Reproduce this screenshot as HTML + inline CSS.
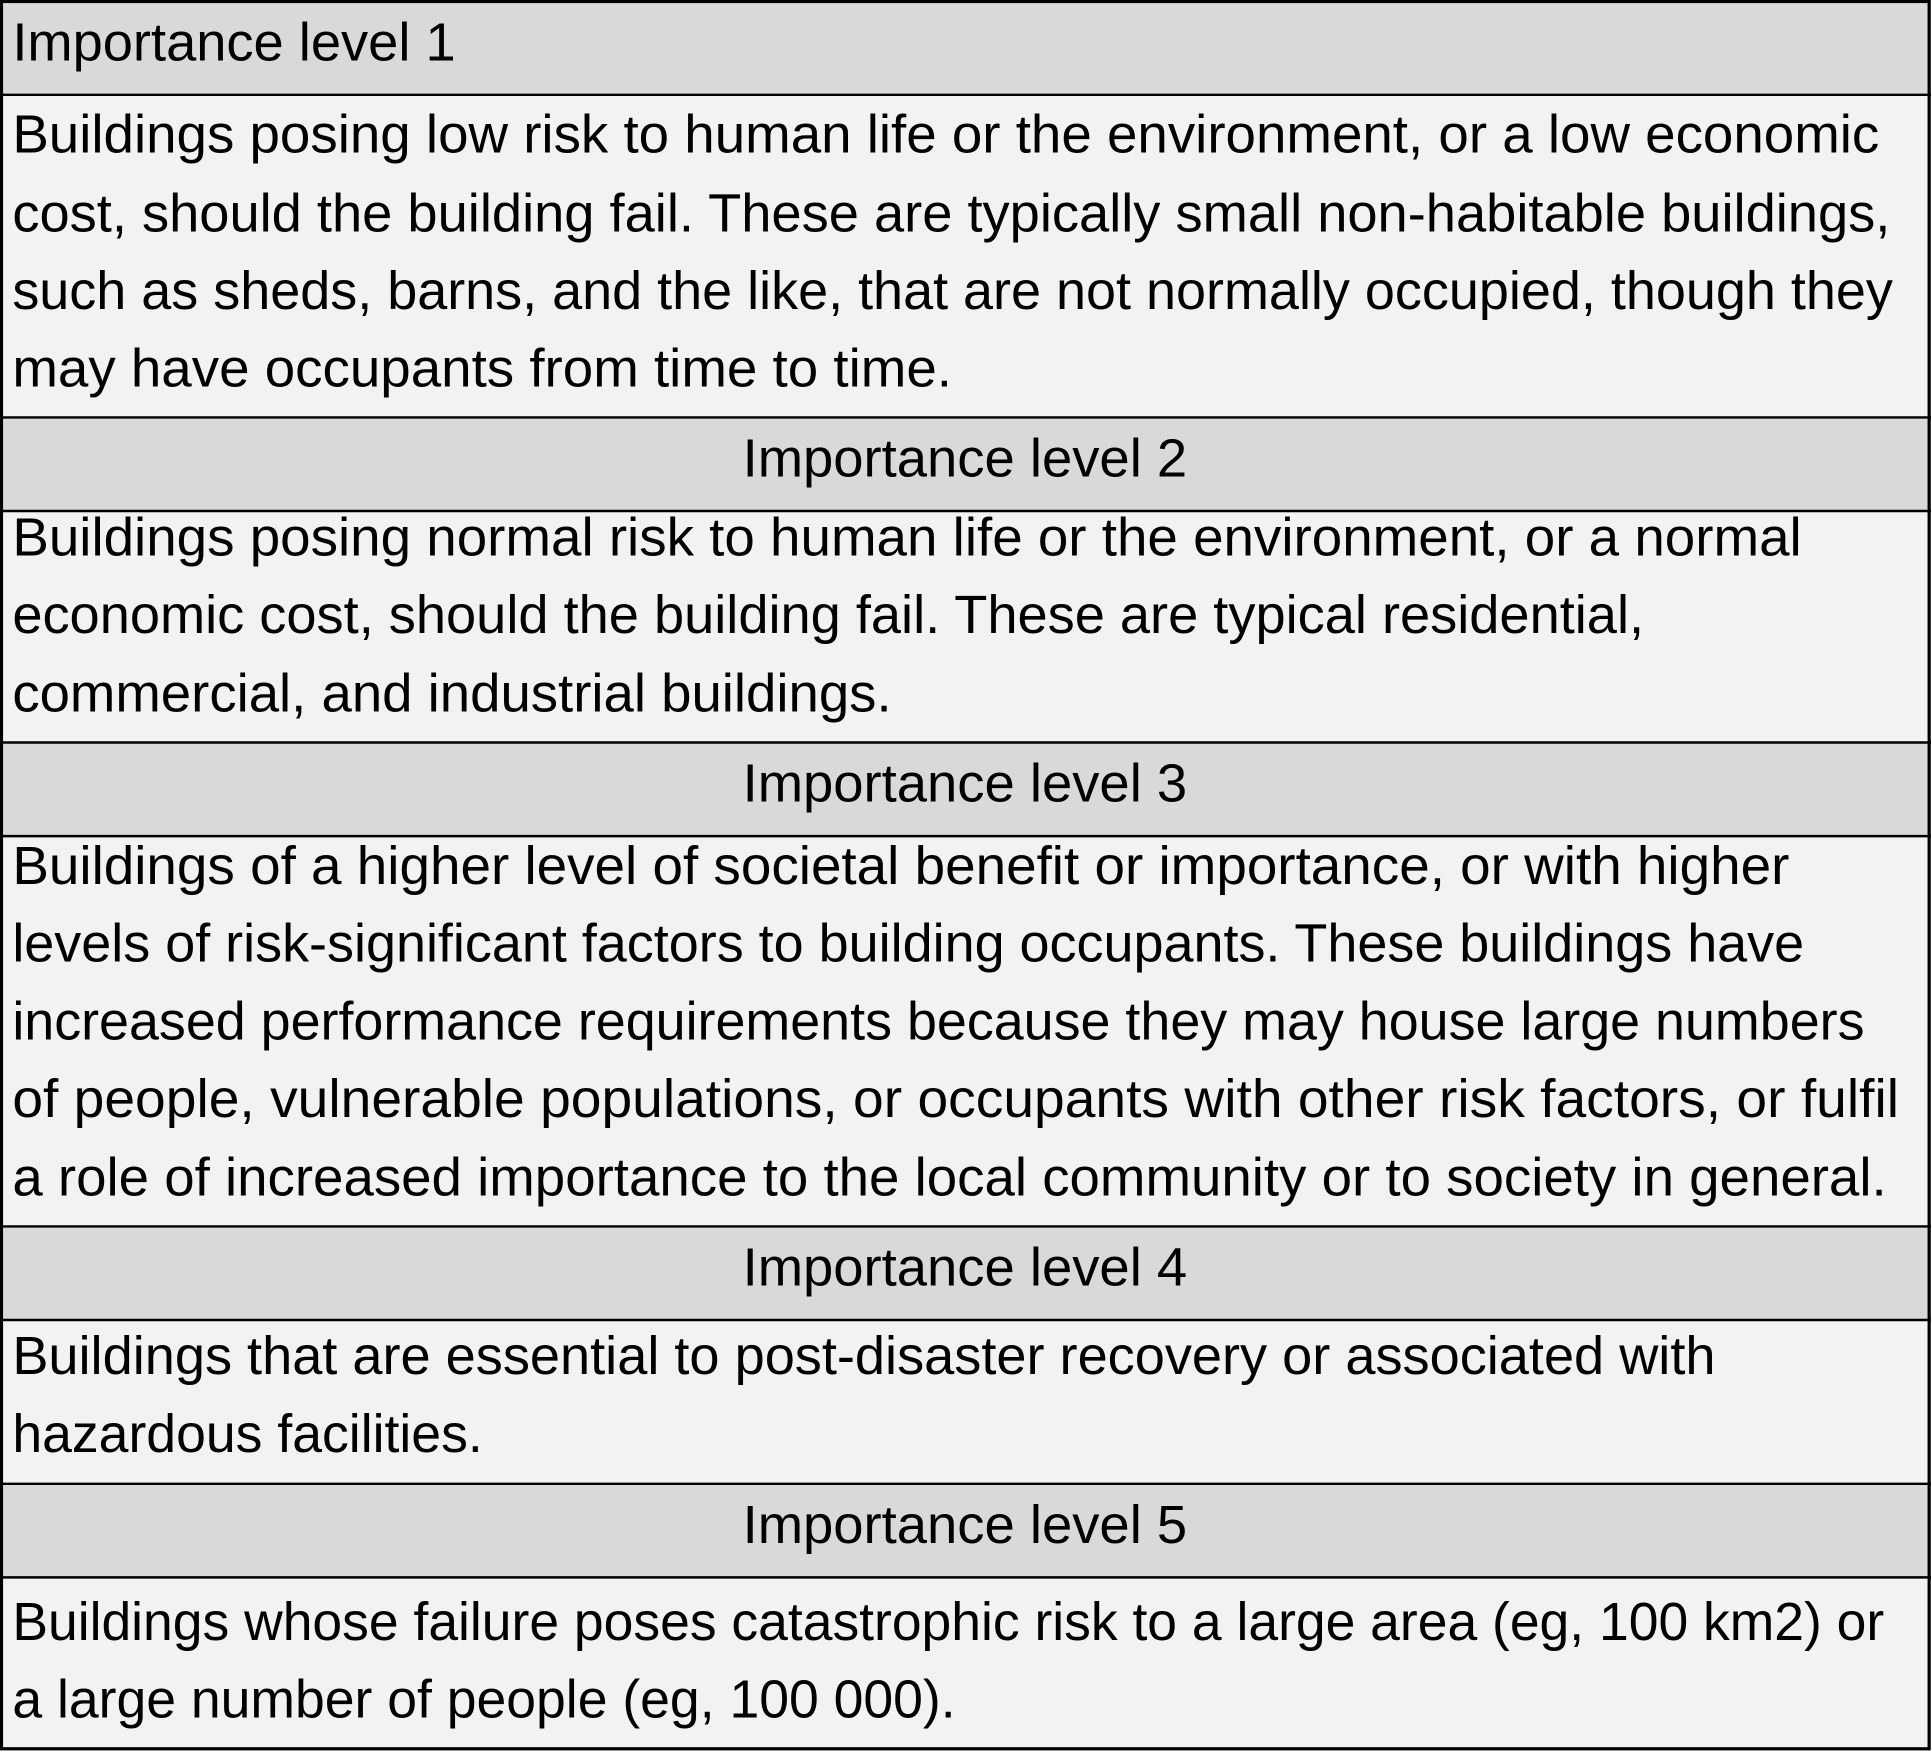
<!DOCTYPE html>
<html><head><meta charset="utf-8"><style>
html,body{margin:0;padding:0;background:#f2f2f2;}
svg{display:block;}
text{font-family:"Liberation Sans",Arial,sans-serif;font-size:44px;fill:#000;}
</style></head><body>
<svg width="1931" height="1751" viewBox="0 0 1568 1422" preserveAspectRatio="none" xmlns="http://www.w3.org/2000/svg">
<g>
<rect x="0" y="0" width="1568" height="77" fill="#d9d9d9"/>
<text x="10" y="49" textLength="360" lengthAdjust="spacingAndGlyphs">Importance level 1</text>
</g>
<g>
<rect x="0" y="77" width="1568" height="262" fill="#f2f2f2"/>
<text x="10" y="124" textLength="1516" lengthAdjust="spacingAndGlyphs">Buildings posing low risk to human life or the environment, or a low economic</text>
<text x="10" y="188" textLength="1525" lengthAdjust="spacingAndGlyphs">cost, should the building fail. These are typically small non-habitable buildings,</text>
<text x="10" y="251" textLength="1527" lengthAdjust="spacingAndGlyphs">such as sheds, barns, and the like, that are not normally occupied, though they</text>
<text x="10" y="314" textLength="763" lengthAdjust="spacingAndGlyphs">may have occupants from time to time.</text>
</g>
<g>
<rect x="0" y="339" width="1568" height="76" fill="#d9d9d9"/>
<text x="603" y="387" textLength="361" lengthAdjust="spacingAndGlyphs">Importance level 2</text>
</g>
<g>
<rect x="0" y="415" width="1568" height="188" fill="#f2f2f2"/>
<text x="10" y="451" textLength="1453" lengthAdjust="spacingAndGlyphs">Buildings posing normal risk to human life or the environment, or a normal</text>
<text x="10" y="514" textLength="1325" lengthAdjust="spacingAndGlyphs">economic cost, should the building fail. These are typical residential,</text>
<text x="10" y="578" textLength="714" lengthAdjust="spacingAndGlyphs">commercial, and industrial buildings.</text>
</g>
<g>
<rect x="0" y="603" width="1568" height="76" fill="#d9d9d9"/>
<text x="603" y="651" textLength="361" lengthAdjust="spacingAndGlyphs">Importance level 3</text>
</g>
<g>
<rect x="0" y="679" width="1568" height="317" fill="#f2f2f2"/>
<text x="10" y="718" textLength="1443" lengthAdjust="spacingAndGlyphs">Buildings of a higher level of societal benefit or importance, or with higher</text>
<text x="10" y="781" textLength="1455" lengthAdjust="spacingAndGlyphs">levels of risk-significant factors to building occupants. These buildings have</text>
<text x="10" y="844" textLength="1504" lengthAdjust="spacingAndGlyphs">increased performance requirements because they may house large numbers</text>
<text x="10" y="907" textLength="1532" lengthAdjust="spacingAndGlyphs">of people, vulnerable populations, or occupants with other risk factors, or fulfil</text>
<text x="10" y="971" textLength="1522" lengthAdjust="spacingAndGlyphs">a role of increased importance to the local community or to society in general.</text>
</g>
<g>
<rect x="0" y="996" width="1568" height="76" fill="#d9d9d9"/>
<text x="603" y="1044" textLength="361" lengthAdjust="spacingAndGlyphs">Importance level 4</text>
</g>
<g>
<rect x="0" y="1072" width="1568" height="133" fill="#f2f2f2"/>
<text x="10" y="1116" textLength="1383" lengthAdjust="spacingAndGlyphs">Buildings that are essential to post-disaster recovery or associated with</text>
<text x="10" y="1179" textLength="382" lengthAdjust="spacingAndGlyphs">hazardous facilities.</text>
</g>
<g>
<rect x="0" y="1205" width="1568" height="76" fill="#d9d9d9"/>
<text x="603" y="1253" textLength="361" lengthAdjust="spacingAndGlyphs">Importance level 5</text>
</g>
<g>
<rect x="0" y="1281" width="1568" height="141" fill="#f2f2f2"/>
<text x="10" y="1332" textLength="1520" lengthAdjust="spacingAndGlyphs">Buildings whose failure poses catastrophic risk to a large area (eg, 100 km2) or</text>
<text x="10" y="1395" textLength="766" lengthAdjust="spacingAndGlyphs">a large number of people (eg, 100 000).</text>
</g>
<g stroke="#000" stroke-width="2">
<line x1="0" y1="77" x2="1568" y2="77"/>
<line x1="0" y1="339" x2="1568" y2="339"/>
<line x1="0" y1="415" x2="1568" y2="415"/>
<line x1="0" y1="603" x2="1568" y2="603"/>
<line x1="0" y1="679" x2="1568" y2="679"/>
<line x1="0" y1="996" x2="1568" y2="996"/>
<line x1="0" y1="1072" x2="1568" y2="1072"/>
<line x1="0" y1="1205" x2="1568" y2="1205"/>
<line x1="0" y1="1281" x2="1568" y2="1281"/>
<rect x="1.2" y="1.2" width="1565.3" height="1419" fill="none" stroke-width="2.6"/>
</g>
</svg>
</body></html>
